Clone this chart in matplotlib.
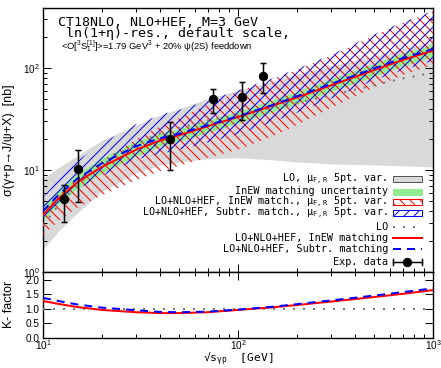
import numpy as np
import matplotlib
matplotlib.use('Agg')
import matplotlib.pyplot as plt
from matplotlib.patches import Rectangle
from matplotlib.lines import Line2D
from matplotlib.ticker import FixedLocator, NullFormatter, FuncFormatter, NullLocator

# ---------------- data ----------------
energy = [10, 12, 15, 20, 30, 40, 50, 70, 100, 150, 200, 300, 500, 700, 1000]

sigma_lo = [2.86, 4.49, 7.16, 11.2, 18.0, 23.0, 25.8, 30.6, 34.5, 40.6, 45.4, 54.1, 67.8, 79.1, 89.7]
sigma_inew = [3.63, 5.25, 7.59, 10.7, 15.8, 19.5, 21.9, 26.9, 33.1, 42.7, 51.3, 67.6, 95.5, 120.2, 147.9]
sigma_subtr = [3.95, 5.70, 8.23, 11.6, 17.1, 20.5, 22.7, 27.5, 33.5, 43.4, 52.7, 69.8, 99.0, 125.0, 153.4]

lo_band_low = [1.66, 2.51, 3.80, 6.17, 9.33, 11.2, 12.0, 12.9, 13.2, 12.6, 12.0, 11.5, 11.2, 11.0, 10.7]
lo_band_high = [8.3, 10.5, 13.8, 19.5, 27.5, 34.7, 39.8, 50.1, 60.3, 74.1, 87.1, 104.7, 131.8, 154.9, 182.0]

match_band_low = [3.2, 4.6, 6.6, 9.3, 13.7, 17.0, 19.1, 23.4, 28.8, 37.1, 44.6, 58.8, 83.1, 104.6, 128.7]
match_band_high = [4.4, 6.4, 9.2, 13.0, 19.2, 23.0, 25.4, 30.8, 37.5, 48.6, 59.0, 78.2, 110.9, 140.0, 171.8]

inew_band_low = [2.29, 3.16, 4.27, 5.62, 7.94, 9.77, 11.0, 13.2, 15.8, 21.4, 27.5, 40.7, 64.6, 85.1, 107.2]
inew_band_high = [3.89, 5.62, 8.32, 12.3, 20.0, 26.9, 32.4, 43.7, 58.9, 77.6, 95.5, 131.8, 208.9, 275.4, 354.8]

subtr_band_low = [3.16, 4.57, 6.46, 8.71, 12.6, 14.5, 15.8, 18.6, 22.4, 29.5, 36.3, 50.1, 75.9, 95.5, 117.5]
subtr_band_high = [5.37, 8.13, 12.3, 18.2, 28.2, 34.7, 38.9, 47.9, 60.3, 79.4, 97.7, 134.9, 213.8, 281.8, 363.1]

k_inew = [1.27, 1.17, 1.06, 0.96, 0.88, 0.85, 0.85, 0.88, 0.96, 1.05, 1.13, 1.25, 1.41, 1.52, 1.65]
k_subtr = [1.38, 1.27, 1.15, 1.04, 0.95, 0.89, 0.88, 0.90, 0.97, 1.07, 1.16, 1.29, 1.46, 1.58, 1.71]
k_lo = [1.0] * len(energy)

data_x = [12.8, 15.1, 44.8, 74.6, 104.5, 135.0]
data_y = [5.16, 10.3, 20.0, 49.3, 52.3, 84.0]
data_low = [3.11, 4.89, 10.0, 36.5, 31.0, 56.5]
data_high = [7.13, 15.7, 29.8, 62.2, 72.4, 111.0]

legend_labels = [
    'LO, μ$\\mathregular{_{F,R}}$ 5pt. var.',
    'InEW matching uncertainty',
    'LO+NLO+HEF, InEW match., μ$\\mathregular{_{F,R}}$ 5pt. var.',
    'LO+NLO+HEF, Subtr. match., μ$\\mathregular{_{F,R}}$ 5pt. var.',
    'LO',
    'LO+NLO+HEF, InEW matching',
    'LO+NLO+HEF, Subtr. matching',
    'Exp. data',
]

# ---------------- style ----------------
DPI = 60
W, H = 441, 368
PX = 72.0 / DPI  # points per pixel
plt.rcParams['font.family'] = ['Liberation Sans', 'DejaVu Sans']
plt.rcParams['hatch.linewidth'] = 1.0 * PX
MONO = ['DejaVu Sans Mono', 'DejaVu Sans']

GREY = '#d9d9d9'
GREEN = '#90ee90'
RED = '#ff0000'
BLUE = '#0000ff'
HATCH_RED = '\\\\'
HATCH_BLUE = '//'

fig = plt.figure(figsize=(W / DPI, H / DPI), dpi=DPI)

ax_l, ax_r = 43, 433
main_top, main_bot = 7.5, 272
low_top, low_bot = 272, 337.5
ax = fig.add_axes([ax_l / W, 1 - main_bot / H, (ax_r - ax_l) / W, (main_bot - main_top) / H])
axk = fig.add_axes([ax_l / W, 1 - low_bot / H, (ax_r - ax_l) / W, (low_bot - low_top) / H])

x = np.array(energy)

# bands
ax.fill_between(x, lo_band_low, lo_band_high, color=GREY, linewidth=0, zorder=1)
ax.fill_between(x, match_band_low, match_band_high, color=GREEN, linewidth=0, zorder=2)
ax.fill_between(x, inew_band_low, inew_band_high, facecolor='none', edgecolor=RED,
                hatch=HATCH_RED, linewidth=0, zorder=3)
ax.fill_between(x, subtr_band_low, subtr_band_high, facecolor='none', edgecolor=BLUE,
                hatch=HATCH_BLUE, linewidth=0, zorder=3)

# central lines
ax.plot(x, sigma_lo, color='#777777', linestyle=(0, (1.0, 4.0)), linewidth=2 * PX, zorder=4)
ax.plot(x, sigma_inew, color=RED, linewidth=2 * PX, zorder=5)
ax.plot(x, sigma_subtr, color=BLUE, linestyle=(0, (4, 3)), linewidth=2 * PX, zorder=5)

# data
dy = np.array([np.array(data_y) - np.array(data_low), np.array(data_high) - np.array(data_y)])
ax.errorbar(data_x, data_y, yerr=dy, fmt='o', color='black', markersize=8.5 * PX,
            elinewidth=1.5 * PX, capsize=3 * PX, capthick=1.5 * PX, zorder=6)

ax.set_xscale('log')
ax.set_yscale('log')
ax.set_xlim(10, 1000)
ax.set_ylim(1, 392)

# K-factor panel
axk.plot(x, k_lo, color='#777777', linestyle=(0, (1.0, 4.0)), linewidth=2 * PX, zorder=3)
axk.plot(x, k_inew, color=RED, linewidth=2 * PX, zorder=4)
axk.plot(x, k_subtr, color=BLUE, linestyle=(0, (4, 3)), linewidth=2 * PX, zorder=5)
axk.set_xscale('log')
axk.set_xlim(10, 1000)
axk.set_ylim(0, 2.28)

# ticks
def logfmt(v, pos):
    e = int(round(np.log10(v)))
    return '$\\mathregular{10^{%d}}$' % e

for a in (ax, axk):
    a.tick_params(which='both', direction='in', top=True, right=True, labelsize=12)
    a.tick_params(which='major', length=8 * PX, width=1 * PX)
    a.tick_params(which='minor', length=4.5 * PX, width=1 * PX)
    for s in a.spines.values():
        s.set_linewidth(1.4 * PX)

minor_x = [m * 10 ** e for e in (1, 2) for m in range(2, 10)]
ax.xaxis.set_major_locator(FixedLocator([10, 100, 1000]))
ax.xaxis.set_minor_locator(FixedLocator(minor_x))
ax.xaxis.set_major_formatter(NullFormatter())
ax.xaxis.set_minor_formatter(NullFormatter())
ax.yaxis.set_major_locator(FixedLocator([1, 10, 100]))
ax.yaxis.set_minor_locator(FixedLocator([m * 10 ** e for e in (0, 1, 2) for m in range(2, 10)]))
ax.yaxis.set_major_formatter(FuncFormatter(logfmt))
ax.yaxis.set_minor_formatter(NullFormatter())
ax.tick_params(axis='y', pad=4)

axk.xaxis.set_major_locator(FixedLocator([10, 100, 1000]))
axk.xaxis.set_minor_locator(FixedLocator(minor_x))
axk.xaxis.set_major_formatter(FuncFormatter(logfmt))
axk.xaxis.set_minor_formatter(NullFormatter())
axk.yaxis.set_major_locator(FixedLocator([0.0, 0.5, 1.0, 1.5, 2.0]))
axk.yaxis.set_minor_locator(NullLocator())
axk.yaxis.set_major_formatter(FuncFormatter(lambda v, p: '%.1f' % v))
axk.tick_params(axis='x', pad=1)
axk.tick_params(axis='y', pad=4)

# axis labels
ax.set_ylabel('σ(γ+p→J/ψ+X)  [nb]', fontsize=15)
ax.yaxis.set_label_coords((15 - ax_l) / (ax_r - ax_l), 0.5)
axk.set_ylabel('K- factor', fontsize=15)
axk.yaxis.set_label_coords((15 - ax_l) / (ax_r - ax_l), 0.5)
axk.set_xlabel('√s$\\mathregular{_{γp}}$  [GeV]', fontsize=13.5, family=MONO, va='center')
axk.xaxis.set_label_coords(0.5, -(359.5 - low_bot) / (low_bot - low_top))

# header text
def ftext(px, py, s, **kw):
    fig.text(px / W, 1 - py / H, s, **kw)

ftext(58, 22, 'CT18NLO, NLO+HEF, M=3 GeV', fontsize=16.0, family=MONO, va='center', ha='left')
ftext(58, 34, ' ln(1+η)-res., default scale,', fontsize=16.0, family=MONO, va='center', ha='left')
ftext(61, 46, '<O[$\\mathregular{^3S_1^{[1]}}$]>=1.79 GeV$\\mathregular{^3}$ + 20% ψ(2S) feeddown',
      fontsize=11.2, va='center', ha='left')

# manual legend (gnuplot style: text right-aligned, sample on the right)
def to_ax(px, py):
    return (px - ax_l) / (ax_r - ax_l), (main_bot - py) / (main_bot - main_top)

leg_y = [179.3, 191.5, 202.0, 213.3, 227.3, 238.3, 249.3, 262.3]
text_x = 388
hx0, hx1 = 393, 421.5
for lab, yy in zip(legend_labels, leg_y):
    tx, ty = to_ax(text_x, yy)
    ax.text(tx, ty, lab, transform=ax.transAxes, ha='right', va='center',
            fontsize=12.1, family=MONO, zorder=10)

def rect_handle(yy, **kw):
    x0, y0 = to_ax(hx0, yy + 3)
    x1, y1 = to_ax(hx1, yy - 3)
    ax.add_patch(Rectangle((x0, y0), x1 - x0, y1 - y0, transform=ax.transAxes, zorder=10, **kw))

rect_handle(leg_y[0], facecolor=GREY, edgecolor='#555555', linewidth=1 * PX)
rect_handle(leg_y[1], facecolor=GREEN, edgecolor=GREEN, linewidth=1 * PX)
rect_handle(leg_y[2], facecolor='white', edgecolor=RED, hatch=HATCH_RED, linewidth=1 * PX)
rect_handle(leg_y[3], facecolor='white', edgecolor=BLUE, hatch=HATCH_BLUE, linewidth=1 * PX)

def line_handle(yy, **kw):
    x0, y0 = to_ax(hx0, yy)
    x1, _ = to_ax(hx1, yy)
    ax.add_line(Line2D([x0, x1], [y0, y0], transform=ax.transAxes, zorder=10, **kw))

line_handle(leg_y[4], color='#777777', linestyle=(0, (1.0, 4.0)), linewidth=2 * PX)
line_handle(leg_y[5], color=RED, linewidth=2 * PX)
line_handle(leg_y[6], color=BLUE, linestyle=(0, (4, 3)), linewidth=2 * PX, dash_capstyle='butt')
line_handle(leg_y[7], color='black', linewidth=1.5 * PX)
xm, ym = to_ax((hx0 + hx1) / 2, leg_y[7])
ax.add_line(Line2D([xm], [ym], marker='o', color='black', markersize=8.5 * PX,
                   transform=ax.transAxes, zorder=11))
for xe in (hx0, hx1):
    xa, ya0 = to_ax(xe, leg_y[7] - 3)
    _, ya1 = to_ax(xe, leg_y[7] + 3)
    ax.add_line(Line2D([xa, xa], [ya0, ya1], color='black', linewidth=1.5 * PX,
                       transform=ax.transAxes, zorder=11))

fig.savefig('out.png', dpi=DPI)
